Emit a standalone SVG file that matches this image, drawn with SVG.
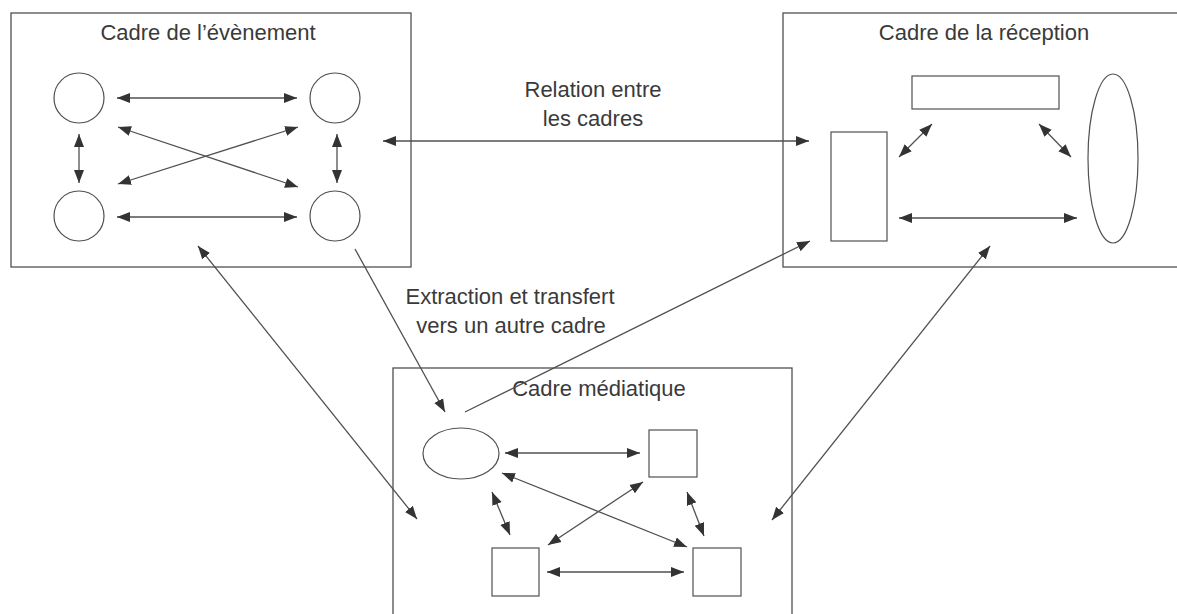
<svg xmlns="http://www.w3.org/2000/svg" width="1177" height="614" viewBox="0 0 1177 614">
<style>
.frame{fill:none;stroke:#505050;stroke-width:1.3}
.shape{fill:#fff;stroke:#505050;stroke-width:1.2}
.lbl{font-family:"Liberation Sans",Arial,sans-serif;font-size:22px;fill:#3a3a3a;text-anchor:middle}
.c{fill:none;stroke:#505050;stroke-width:1.3}
.b{marker-start:url(#ah);marker-end:url(#ah)}
.e{marker-end:url(#ah)}
</style>
<defs>
<marker id="ah" markerUnits="userSpaceOnUse" markerWidth="15" markerHeight="12" refX="13" refY="6" orient="auto-start-reverse" viewBox="0 0 15 12">
<path d="M0,1 L13,6 L0,11 z" fill="#333"/>
</marker>
</defs>
<rect width="1177" height="614" fill="#fff"/>

<g id="cadre-evenement">
<rect class="frame" x="11" y="13" width="400" height="254"/>
<text class="lbl" x="208" y="40">Cadre de l’évènement</text>
<circle class="shape" cx="79" cy="98" r="25"/>
<circle class="shape" cx="335" cy="98" r="25"/>
<circle class="shape" cx="79" cy="216" r="25"/>
<circle class="shape" cx="335" cy="216" r="25"/>
</g>

<g id="cadre-reception">
<rect class="frame" x="783" y="13" width="400" height="254"/>
<text class="lbl" x="984" y="40">Cadre de la réception</text>
<rect class="shape" x="912" y="76" width="147" height="33"/>
<rect class="shape" x="831" y="132" width="56" height="109"/>
<ellipse class="shape" cx="1113" cy="158.5" rx="25" ry="84.5"/>
</g>

<g id="cadre-mediatique">
<rect class="frame" x="393" y="368" width="399" height="260"/>
<text class="lbl" x="599" y="396">Cadre médiatique</text>
<ellipse class="shape" cx="461" cy="453.5" rx="38" ry="25.5"/>
<rect class="shape" x="649" y="430" width="48" height="47"/>
<rect class="shape" x="492" y="548" width="47" height="48"/>
<rect class="shape" x="693" y="548" width="48" height="48"/>
</g>

<g id="labels">
<text class="lbl" x="593" y="97">Relation entre</text>
<text class="lbl" x="593" y="126">les cadres</text>
<text class="lbl" x="510" y="304">Extraction et transfert</text>
<text class="lbl" x="511" y="333">vers un autre cadre</text>
</g>

<g id="connectors">
<line class="c b" x1="117" y1="98" x2="297" y2="98"/>
<line class="c b" x1="117" y1="217" x2="297" y2="217"/>
<line class="c b" x1="79" y1="134" x2="79" y2="183"/>
<line class="c b" x1="337" y1="134" x2="337" y2="183"/>
<line class="c b" x1="118" y1="127" x2="298" y2="187"/>
<line class="c b" x1="298" y1="127" x2="118" y2="184"/>
<line class="c b" x1="383" y1="141" x2="809" y2="141"/>
<line class="c b" x1="899" y1="157" x2="932" y2="124"/>
<line class="c b" x1="1039" y1="124" x2="1071" y2="157"/>
<line class="c b" x1="899" y1="218" x2="1077" y2="218"/>
<line class="c b" x1="198" y1="246" x2="417" y2="519"/>
<line class="c e" x1="355" y1="249" x2="445" y2="412"/>
<line class="c e" x1="465" y1="412" x2="810" y2="241"/>
<line class="c b" x1="990" y1="246" x2="772" y2="520"/>
<line class="c b" x1="505" y1="453" x2="640" y2="453"/>
<line class="c b" x1="547" y1="572" x2="684" y2="572"/>
<line class="c b" x1="492" y1="492" x2="510" y2="535"/>
<line class="c b" x1="687" y1="492" x2="704" y2="536"/>
<line class="c b" x1="502" y1="473" x2="687" y2="547"/>
<line class="c b" x1="643" y1="482" x2="548" y2="545"/>
</g>
</svg>
